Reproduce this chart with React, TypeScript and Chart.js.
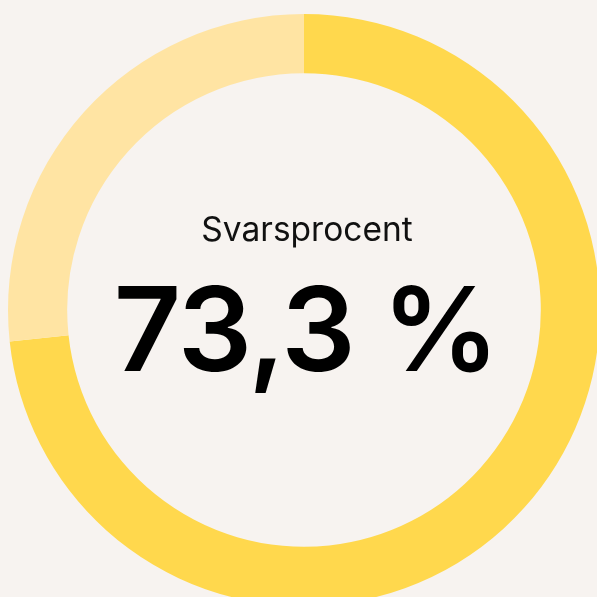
import React, { useEffect, useRef } from "react";
import { Chart, registerables } from "chart.js";

Chart.register(...registerables);

const categories = ["Svarat", "Ej svarat"];
const values = [73.3, 26.7];
const colors = ["#ffd84d", "#ffe4a3"];
const title = "Svarsprocent";
const valueLabel = "73,3 %";

export default function App() {
  const ref = useRef<HTMLCanvasElement>(null);
  useEffect(() => {
    document.body.style.margin = "0";
    document.body.style.background = "#f7f3f0";
    const chart = new Chart(ref.current!, {
      type: "doughnut",
      data: {
        labels: categories,
        datasets: [
          {
            data: values,
            backgroundColor: colors,
            borderWidth: 0,
            hoverOffset: 0,
          },
        ],
      },
      options: {
        responsive: false,
        animation: false,
        cutout: "80%",
        layout: { padding: { top: 14, bottom: 14, left: 8, right: 0 } },
        plugins: { legend: { display: false }, tooltip: { enabled: false } },
      },
    });
    return () => chart.destroy();
  }, []);
  return (
    <div
      style={{
        position: "fixed",
        left: 0,
        top: 0,
        width: 597,
        height: 597,
        overflow: "hidden",
        background: "#f7f3f0",
      }}
    >
      <canvas ref={ref} width={600} height={620} style={{ position: "absolute", left: 0, top: 0 }} />
      <div
        style={{
          position: "absolute",
          left: 0,
          width: 614,
          top: 207,
          textAlign: "center",
          fontFamily: "Inter, sans-serif",
          fontSize: 33.5,
          lineHeight: "44px",
          color: "#111",
        }}
      >
        {title}
      </div>
      <div
        style={{
          position: "absolute",
          left: 0,
          width: 612,
          top: 259,
          textAlign: "center",
          fontFamily: "Inter, sans-serif",
          fontSize: 117,
          fontWeight: 600,
          lineHeight: "140px",
          color: "#000",
          letterSpacing: "-1.5px",
        }}
      >
        {valueLabel}
      </div>
    </div>
  );
}
